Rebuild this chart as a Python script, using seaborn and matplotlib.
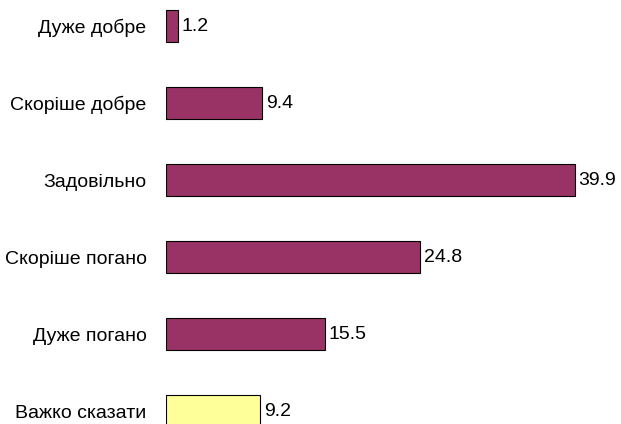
import pandas as pd
import matplotlib
matplotlib.use('Agg')
import matplotlib.pyplot as plt
import seaborn as sns

# data
categories = ['Дуже добре', 'Скоріше добре', 'Задовільно', 'Скоріше погано', 'Дуже погано', 'Важко сказати']
values = [1.2, 9.4, 39.9, 24.8, 15.5, 9.2]
bar_colors = ['#993366', '#993366', '#993366', '#993366', '#993366', '#FFFF99']

df = pd.DataFrame({'category': categories, 'value': values})

sns.set_style('white')
plt.rcParams['font.family'] = ['Liberation Sans', 'DejaVu Sans']

fig = plt.figure(figsize=(6.21, 4.24), dpi=100)
ax = fig.add_axes([166 / 621, 0, 434 / 621, 1])

sns.barplot(data=df, x='value', y='category', hue='category', palette=bar_colors,
            saturation=1, orient='h', width=0.41, edgecolor='black', linewidth=0.8,
            legend=False, ax=ax)

# value labels at bar ends
for c in ax.containers:
    ax.bar_label(c, fmt='%.1f', padding=2.5, fontsize=14, color='black')

ax.set_xlim(0, 434 / 10.25)
ax.set_ylim((424 - 26) / 77, -26 / 77)
ax.set_xlabel('')
ax.set_ylabel('')
ax.set_xticks([])
ax.tick_params(axis='y', length=0, pad=14, labelsize=14, labelcolor='black')
for s in ax.spines.values():
    s.set_visible(False)

fig.savefig('out.png', dpi=100)
